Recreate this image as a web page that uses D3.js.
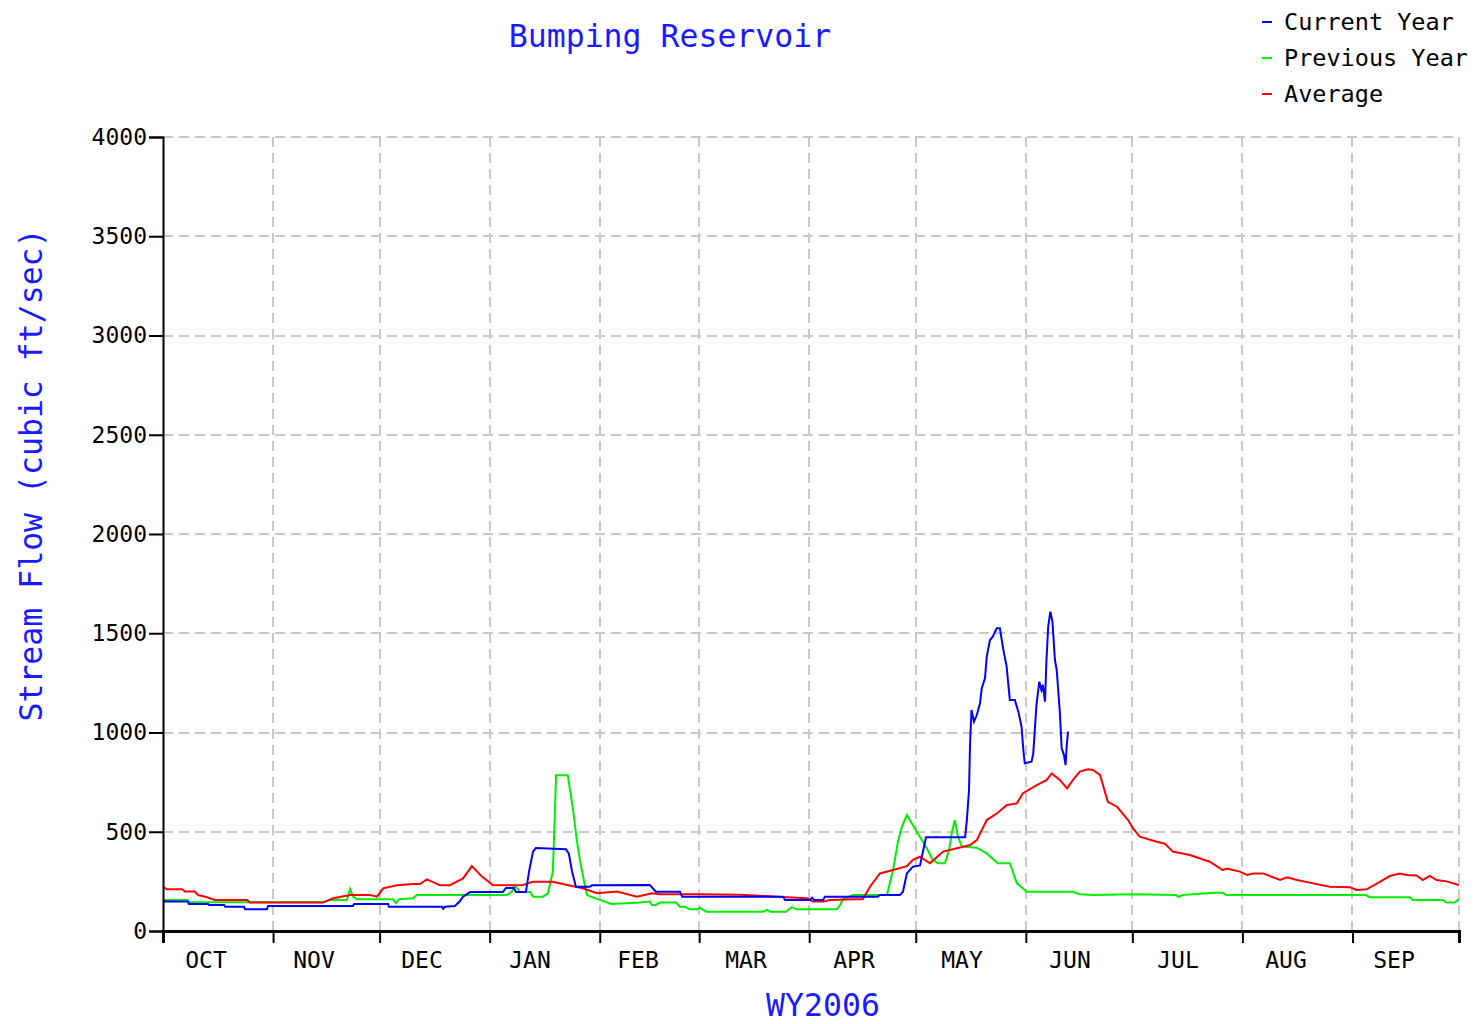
<!DOCTYPE html>
<html>
<head>
<meta charset="utf-8">
<script src="https://cdn.jsdelivr.net/npm/d3@7"></script>
<style>
  body { margin: 0; background: #fff; }
  text { font-family: "DejaVu Sans Mono", "Liberation Mono", monospace; }
</style>
</head>
<body>
<div id="chart"></div>
<script>
// water year months and their lengths in days
const months = ["OCT", "NOV", "DEC", "JAN", "FEB", "MAR", "APR", "MAY", "JUN", "JUL", "AUG", "SEP"];
const monthLengths = [31, 30, 31, 31, 28, 31, 30, 31, 30, 31, 31, 30];
const yTicks = [0, 500, 1000, 1500, 2000, 2500, 3000, 3500, 4000];

// [day of water year, flow cfs]
const currentYear = [
  [0, 148], [7, 148], [7.3, 136], [12.7, 136], [13, 131], [17.2, 131], [17.5, 122], [22.8, 122],
  [23.1, 109], [29.3, 109], [29.6, 126], [53.5, 126], [53.8, 136], [63.4, 136], [63.6, 122],
  [78.6, 122], [78.9, 112], [79.4, 122], [82.2, 126], [83.6, 150], [84.5, 173], [86.5, 196],
  [95.7, 196], [96.6, 216], [98.8, 216], [99.4, 196], [102.2, 196], [103.1, 300], [104.2, 400],
  [105, 418], [113.5, 412], [114.3, 390], [115.2, 300], [116.3, 223], [120.2, 223], [120.8, 230],
  [137.1, 232], [138.8, 198], [145.6, 198], [146.2, 173], [174.6, 173], [175.2, 156], [182.2, 156],
  [182.8, 168], [183.4, 156], [185.9, 156], [186.4, 173], [201.3, 173], [201.9, 181], [207.5, 181],
  [208.4, 198], [209.5, 290], [211.2, 324], [213.2, 330], [214.9, 472], [225.9, 472], [226.4, 559],
  [227, 710], [227.3, 946], [227.7, 1113], [228.4, 1054], [229.2, 1088], [230.1, 1147], [230.6, 1223],
  [231.5, 1273], [232, 1382], [232.9, 1466], [233.7, 1483], [234.8, 1525], [235.7, 1525], [236.6, 1424],
  [237.6, 1332], [238.5, 1164], [239.9, 1164], [240.9, 1105], [241.8, 1029], [242.3, 912], [242.7, 845],
  [244.6, 853], [245.1, 895], [246, 1139], [246.8, 1256], [247.4, 1214], [247.8, 1240], [248.4, 1155],
  [248.8, 1357], [249.3, 1533], [249.9, 1609], [250.5, 1558], [251.2, 1365], [251.7, 1315], [252.6, 1097],
  [253.1, 920], [253.7, 890], [254.2, 836], [254.5, 929], [254.9, 1004]
];

const previousYear = [
  [0, 156], [7, 156], [7.3, 145], [45, 145], [47, 156], [51.8, 156], [52.7, 211], [53.5, 175],
  [54.6, 160], [64.8, 160], [65.6, 140], [66.5, 160], [70.4, 165], [71.5, 181], [96.9, 181],
  [98.3, 200], [99.1, 230], [100, 210], [100.5, 196], [103.4, 196], [104.2, 173], [107, 173],
  [108.4, 190], [109.8, 300], [110.4, 610], [110.7, 785], [114, 785], [115.5, 610], [116.6, 450],
  [117.4, 358], [118.6, 250], [119.4, 181], [122, 163], [125, 145], [126.2, 136], [134.3, 143],
  [137.1, 148], [137.7, 131], [138.8, 131], [140, 143], [144.5, 143], [145.6, 122], [147, 122],
  [148.4, 109], [150.4, 109], [151.2, 117], [153.1, 97], [169, 97], [170.1, 106], [171, 97],
  [175.4, 97], [177.1, 120], [178.5, 109], [189.8, 109], [190.7, 131], [191.5, 160], [194.3, 181],
  [203.9, 181], [205.6, 307], [207, 450], [208.1, 525], [209.5, 584], [212.3, 500], [215.1, 417],
  [216.8, 358], [218.3, 341], [220.2, 341], [221.4, 408], [222.2, 500], [223, 559], [223.9, 475],
  [225, 425], [229.2, 420], [232, 391], [235.1, 341], [238.5, 341], [240.5, 240], [243.3, 198],
  [256.3, 198], [258.2, 185], [261.9, 181], [273.2, 185], [285.3, 181], [286, 172], [287.2, 181],
  [295.7, 193], [298.5, 193], [299.4, 181], [338.8, 181], [339.9, 170], [351.2, 170], [352, 156],
  [360.4, 156], [361.5, 143], [363.8, 143], [365, 160]
];

const average = [
  [0, 223], [1.1, 210], [5.4, 210], [6.2, 199], [9, 199], [9.9, 181], [12.4, 170], [14.6, 156],
  [23.7, 156], [24.5, 143], [45.1, 143], [47.9, 165], [52.7, 181], [58.3, 181], [60.3, 173],
  [62, 215], [65.9, 230], [70.4, 237], [72.4, 237], [74.3, 260], [78, 231], [80.8, 231], [84.5, 265],
  [87, 327], [89.8, 274], [92.9, 232], [98.6, 230], [101.4, 232], [104.2, 248], [109.8, 248],
  [113.8, 232], [118.3, 215], [122.2, 190], [127.9, 199], [133.5, 173], [137.7, 190], [140, 185],
  [151.2, 185], [162.5, 183], [172.9, 173], [181.4, 165], [183, 148], [185.9, 148], [187.8, 156],
  [194.3, 160], [197.1, 160], [199.1, 223], [201.9, 290], [205.6, 307], [209.5, 327], [211.2, 358],
  [213.2, 374], [216, 341], [219.7, 400], [223.6, 417], [227.3, 433], [229.2, 458], [232, 559],
  [234.9, 593], [237.7, 635], [240.5, 643], [242.2, 694], [246.1, 735], [248.9, 761], [250.3, 794],
  [252.6, 761], [254.6, 719], [256.3, 761], [258.2, 803], [260.5, 815], [261.9, 811], [263.9, 786],
  [266.1, 651], [268.7, 626], [271.8, 559], [273.2, 517], [275.1, 475], [279.9, 450], [282.2, 440],
  [284.4, 400], [289.2, 383], [294.8, 349], [298.5, 307], [299.6, 315], [303.3, 299], [305.3, 282],
  [307, 290], [309.8, 290], [314.6, 257], [316.6, 270], [319.4, 257], [323.9, 240], [328.6, 223],
  [334.3, 220], [336.2, 207], [339, 210], [342.7, 248], [345.5, 277], [348.3, 290], [350.3, 282],
  [353.1, 280], [354.8, 257], [356.8, 278], [358.7, 257], [361.5, 250], [365, 232]
];

const series = [
  { name: "Current Year", color: "#0000ff", values: currentYear },
  { name: "Previous Year", color: "#00ee00", values: previousYear },
  { name: "Average", color: "#ff0000", values: average }
];

let width = 1480, height = 1024;
let plot = { left: 163, right: 1459, top: 137, bottom: 931 };

let svg = d3.select("#chart")
  .append("svg")
  .attr("width", width)
  .attr("height", height);

let x = d3.scaleLinear().domain([0, 365]).range([plot.left, plot.right]);
let y = d3.scaleLinear().domain([0, 4000]).range([plot.bottom, plot.top]);
// month names sit on an even band, a little left of the month centres
let monthBand = d3.scaleBand().domain(months).range([plot.left - 11, plot.right - 11]);

// month boundaries (cumulative days)
let bounds = [0];
monthLengths.forEach(function (m, i) { bounds.push(bounds[i] + m); });

// grid
let grid = svg.append("g")
  .attr("stroke", "#c8c8c8")
  .attr("stroke-width", 2)
  .attr("stroke-dasharray", "10,6")
  .attr("shape-rendering", "crispEdges");

grid.selectAll("line.h")
  .data(yTicks.slice(1))
  .enter().append("line")
  .attr("class", "h")
  .attr("x1", plot.left).attr("x2", plot.right)
  .attr("y1", d => y(d)).attr("y2", d => y(d));

grid.selectAll("line.v")
  .data(bounds.slice(1))
  .enter().append("line")
  .attr("class", "v")
  .attr("x1", d => x(d)).attr("x2", d => x(d))
  .attr("y1", plot.top).attr("y2", plot.bottom);

// data lines
let line = d3.line()
  .x(d => x(d[0]))
  .y(d => y(d[1]));

// previous and average first, current on top
[series[1], series[2], series[0]].forEach(function (s) {
  svg.append("path")
    .datum(s.values)
    .attr("fill", "none")
    .attr("stroke", s.color)
    .attr("stroke-width", 2)
    .attr("d", line);
});

// y axis
let yAxis = svg.append("g")
  .attr("transform", "translate(" + plot.left + ",0)")
  .call(d3.axisLeft(y).tickValues(yTicks).tickSize(14).tickPadding(2).tickFormat(d3.format("d")));
yAxis.select(".domain").attr("stroke", "#000").attr("stroke-width", 2);
yAxis.selectAll(".tick line").attr("stroke", "#000").attr("stroke-width", 2);
yAxis.selectAll(".tick text")
  .attr("fill", "#000")
  .style("font-family", '"DejaVu Sans Mono", monospace')
  .style("font-size", "23px");

// x axis: ticks at month bounds
let xAxis = svg.append("g")
  .attr("transform", "translate(0," + plot.bottom + ")")
  .call(d3.axisBottom(x).tickValues(bounds).tickSize(12).tickFormat(""));
xAxis.select(".domain").attr("stroke", "#000").attr("stroke-width", 3);
xAxis.selectAll(".tick line").attr("stroke", "#000").attr("stroke-width", 2);

svg.append("g").selectAll("text")
  .data(months)
  .enter().append("text")
  .attr("x", d => monthBand(d) + monthBand.bandwidth() / 2)
  .attr("y", 968)
  .attr("text-anchor", "middle")
  .style("font-size", "23px")
  .attr("fill", "#000")
  .text(d => d);

// title and axis labels
svg.append("text")
  .attr("x", 670)
  .attr("y", 47)
  .attr("text-anchor", "middle")
  .style("font-size", "31.5px")
  .attr("fill", "#1a1aff")
  .text("Bumping Reservoir");

svg.append("text")
  .attr("x", 823)
  .attr("y", 1016)
  .attr("text-anchor", "middle")
  .style("font-size", "31.5px")
  .attr("fill", "#1a1aff")
  .text("WY2006");

svg.append("text")
  .attr("transform", "translate(42,475) rotate(-90)")
  .attr("text-anchor", "middle")
  .style("font-size", "31.5px")
  .attr("fill", "#1a1aff")
  .text("Stream Flow (cubic ft/sec)");

// legend
let legend = svg.append("g");
series.forEach(function (s, i) {
  let ly = 22 + i * 36;
  legend.append("line")
    .attr("x1", 1262).attr("x2", 1272)
    .attr("y1", ly).attr("y2", ly)
    .attr("stroke", s.color)
    .attr("stroke-width", 2);
  legend.append("text")
    .attr("x", 1284)
    .attr("y", ly + 8)
    .style("font-size", "23.5px")
    .attr("fill", "#000")
    .text(s.name);
});
</script>
</body>
</html>
